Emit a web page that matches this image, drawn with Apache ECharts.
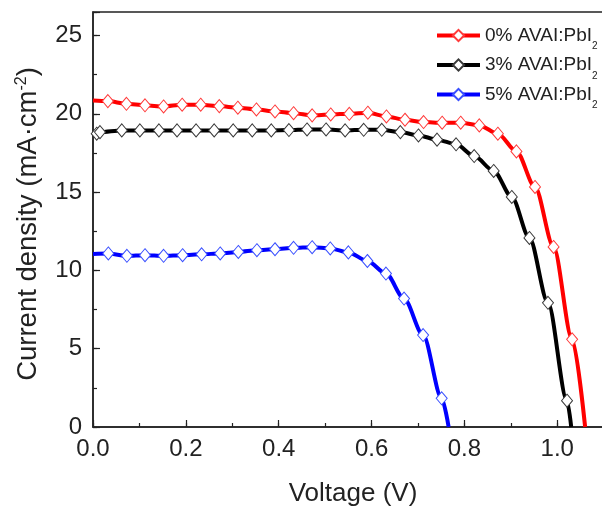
<!DOCTYPE html>
<html>
<head>
<meta charset="utf-8">
<script src="https://cdn.jsdelivr.net/npm/echarts@6/dist/echarts.min.js"></script>
<style>html,body{margin:0;padding:0;background:#fff}#c{width:602px;height:509px}</style>
</head>
<body>
<div id="c"></div>
<script>
// ---- data ----
const seriesNames = ['0% AVAI:PbI', '3% AVAI:PbI', '5% AVAI:PbI'];
const xTickLabels = ['0.0', '0.2', '0.4', '0.6', '0.8', '1.0'];
const yTickLabels = ['0', '5', '10', '15', '20', '25'];

const v0 = [0.000, 0.032, 0.072, 0.112, 0.152, 0.192, 0.232, 0.272, 0.312, 0.352, 0.392, 0.432, 0.472, 0.512, 0.552, 0.592, 0.632, 0.672, 0.712, 0.752, 0.792, 0.832, 0.872, 0.912, 0.952, 0.992, 1.032, 1.060];
const j0 = [20.85, 20.81, 20.64, 20.54, 20.47, 20.58, 20.58, 20.49, 20.39, 20.28, 20.15, 20.04, 19.90, 19.96, 20.00, 20.07, 19.83, 19.62, 19.47, 19.43, 19.43, 19.26, 18.73, 17.60, 15.33, 11.50, 5.60, 0.00];

const v3 = [0.000, 0.008, 0.015, 0.062, 0.101, 0.142, 0.181, 0.222, 0.261, 0.302, 0.343, 0.384, 0.422, 0.461, 0.502, 0.543, 0.583, 0.622, 0.662, 0.701, 0.741, 0.782, 0.821, 0.863, 0.902, 0.940, 0.980, 1.021, 1.030];
const j3 = [18.70, 18.73, 18.83, 18.94, 18.94, 18.94, 18.94, 18.94, 18.94, 18.94, 18.94, 18.94, 18.96, 19.00, 19.00, 18.94, 18.98, 18.98, 18.83, 18.62, 18.35, 18.05, 17.30, 16.35, 14.69, 12.07, 7.93, 1.68, 0.00];

const v5 = [0.000, 0.033, 0.073, 0.112, 0.152, 0.193, 0.234, 0.274, 0.313, 0.353, 0.392, 0.432, 0.472, 0.511, 0.550, 0.591, 0.631, 0.670, 0.711, 0.751, 0.766];
const j5 = [11.05, 11.08, 10.93, 10.97, 10.93, 10.97, 11.03, 11.08, 11.18, 11.29, 11.35, 11.44, 11.48, 11.40, 11.15, 10.60, 9.80, 8.20, 5.87, 1.83, 0.00];

const lineColors = ['#ff0000', '#000000', '#0000ff'];
const markColors = ['#ff3b3b', '#3a3a3a', '#3a50ff'];

function build(v, j) {
  return v.map((x, i) => {
    const item = { value: [x, j[i]] };
    if (i === 0 || i === v.length - 1) item.symbol = 'none';
    return item;
  });
}
const datasets = [build(v0, j0), build(v3, j3), build(v5, j5)];

const chart = echarts.init(document.getElementById('c'), null, { renderer: 'canvas' });
const font = '"Liberation Sans", Arial, sans-serif';
const gridCfg = { left: 93, top: 12, width: 520, height: 415 };

function fmtX(val) {
  const k = Math.round(val / 0.2);
  if (Math.abs(val - k * 0.2) > 1e-6) return '';
  return xTickLabels[k] !== undefined ? xTickLabels[k] : '';
}
function fmtY(val) {
  const k = Math.round(val / 5);
  if (Math.abs(val - k * 5) > 1e-6) return '';
  return yTickLabels[k] !== undefined ? yTickLabels[k] : '';
}

const option = {
  animation: false,
  backgroundColor: '#fff',
  grid: Object.assign({
    show: true, borderColor: '#222', borderWidth: 1.5, backgroundColor: 'transparent',
    containLabel: false, outerBoundsMode: 'none'
  }, gridCfg),
  legend: {
    orient: 'vertical',
    left: 435,
    top: 26,
    padding: 0,
    itemWidth: 43,
    itemHeight: 14,
    itemGap: 4,
    data: seriesNames,
    lineStyle: { width: 4 },
    formatter: name => '{a|' + name + '}{s|2}',
    textStyle: {
      color: '#222',
      fontFamily: font,
      rich: {
        a: { fontSize: 19, lineHeight: 32, verticalAlign: 'middle', fontFamily: font, color: '#222' },
        s: { fontSize: 10, lineHeight: 10, verticalAlign: 'bottom', fontFamily: font, color: '#222' }
      }
    }
  },
  xAxis: [{
    type: 'value', min: 0, max: 1.12, interval: 0.2,
    name: 'Voltage (V)', nameLocation: 'middle', nameGap: 54,
    nameTextStyle: { fontSize: 26, fontFamily: font, color: '#222' },
    axisLine: { show: true, onZero: false, lineStyle: { color: '#222', width: 1.5 } },
    axisTick: { show: true, inside: true, length: 7, lineStyle: { color: '#222', width: 1.2 } },
    axisLabel: { fontSize: 24, fontFamily: font, color: '#222', margin: 10, formatter: fmtX },
    splitLine: { show: false }
  }, {
    type: 'value', min: 0, max: 1.12, interval: 0.1, position: 'bottom', gridIndex: 0,
    axisLine: { show: false },
    axisTick: { show: true, inside: true, length: 4, lineStyle: { color: '#222', width: 1.2 } },
    axisLabel: { show: false },
    splitLine: { show: false }
  }],
  yAxis: [{
    type: 'value', min: 0, max: 26.5, interval: 5,
    name: 'Current density (mA·cm{p|-2})', nameLocation: 'middle', nameGap: 45, nameRotate: 90,
    nameTextStyle: {
      fontSize: 27.5, fontFamily: font, color: '#222',
      padding: [0, 9, 0, 0],
      rich: {
        p: { fontSize: 16, lineHeight: 16, verticalAlign: 'top', fontFamily: font, color: '#222' }
      },
      lineHeight: 31
    },
    axisLine: { show: true, onZero: false, lineStyle: { color: '#222', width: 1.5 } },
    axisTick: { show: true, inside: true, length: 7, lineStyle: { color: '#222', width: 1.2 } },
    axisLabel: { fontSize: 24, fontFamily: font, color: '#222', margin: 11, formatter: fmtY },
    splitLine: { show: false }
  }, {
    type: 'value', min: 0, max: 26.5, interval: 2.5, position: 'left', gridIndex: 0,
    axisLine: { show: false },
    axisTick: { show: true, inside: true, length: 4, lineStyle: { color: '#222', width: 1.2 } },
    axisLabel: { show: false },
    splitLine: { show: false }
  }],
  series: seriesNames.map((n, i) => ({
    name: n,
    type: 'line',
    xAxisIndex: 0,
    yAxisIndex: 0,
    data: datasets[i],
    smooth: 0.3,
    smoothMonotone: 'x',
    clip: true,
    symbol: 'diamond',
    symbolSize: [11, 13],
    showAllSymbol: true,
    lineStyle: { color: lineColors[i], width: 4 },
    itemStyle: { color: '#fff', borderColor: markColors[i], borderWidth: 1 },
    z: 3 - i
  }))
};
chart.setOption(option);
</script>
</body>
</html>
